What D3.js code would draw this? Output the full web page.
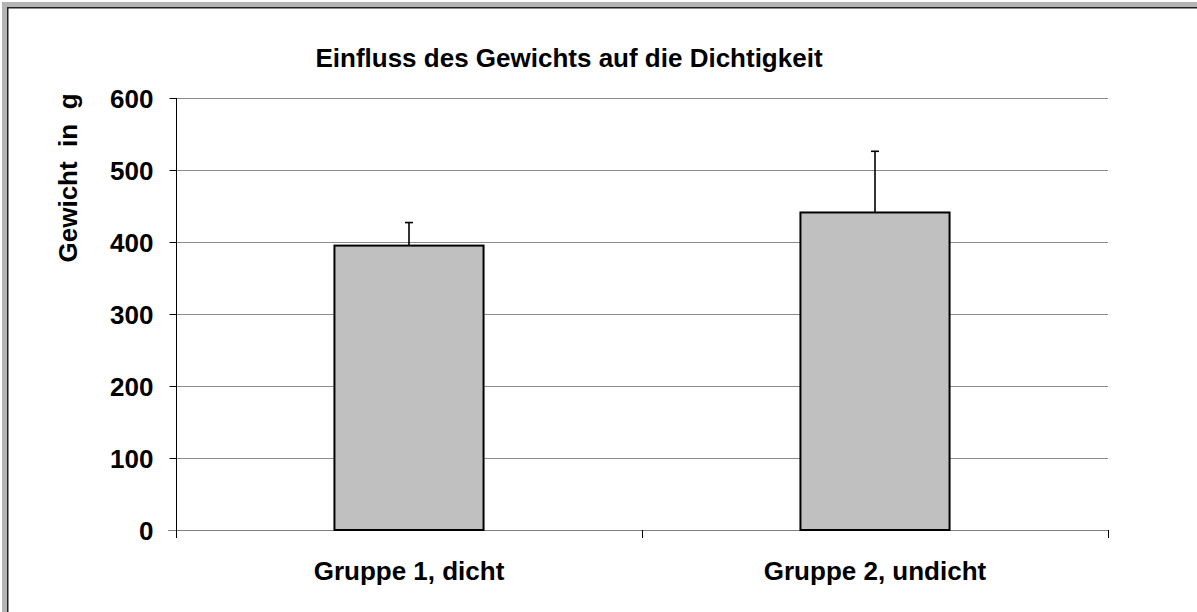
<!DOCTYPE html>
<html>
<head>
<meta charset="utf-8">
<script src="https://d3js.org/d3.v7.min.js"></script>
<style>
  html, body { margin: 0; padding: 0; background: #fff; }
  svg { display: block; }
  text { font-family: "Liberation Sans", Arial, sans-serif; font-weight: bold; fill: #000; }
</style>
</head>
<body>
<svg id="chart" width="1197" height="612"></svg>
<script>
// Data
const categories = ["Gruppe 1, dicht", "Gruppe 2, undicht"];
const means = [395, 441];
const errors = [32, 85];
const yTicks = [0, 100, 200, 300, 400, 500, 600];
const title = "Einfluss des Gewichts auf die Dichtigkeit";
const yTitle = "Gewicht  in  g";

const W = 1197, H = 612;
const plot = { left: 176, right: 1108, top: 98, bottom: 530 };

const svg = d3.select("#chart");

// Frame (top and left edges)
svg.append("rect").attr("x", 2).attr("y", 2).attr("width", W).attr("height", 5).attr("fill", "#b4b4b4");
svg.append("rect").attr("x", 2).attr("y", 2).attr("width", 5).attr("height", H).attr("fill", "#b4b4b4");
svg.append("rect").attr("x", 7).attr("y", 7).attr("width", W).attr("height", 1.5).attr("fill", "#222");
svg.append("rect").attr("x", 7).attr("y", 7).attr("width", 1.5).attr("height", H).attr("fill", "#222");

const x = d3.scaleBand().domain(categories).range([plot.left, plot.right]).paddingInner(0).paddingOuter(0);
const y = d3.scaleLinear().domain([0, 600]).range([plot.bottom, plot.top]);

// Gridlines
svg.append("g")
  .selectAll("line")
  .data(yTicks.filter(d => d > 0))
  .join("line")
  .attr("x1", plot.left).attr("x2", plot.right)
  .attr("y1", d => Math.round(y(d)) + 0.5).attr("y2", d => Math.round(y(d)) + 0.5)
  .attr("stroke", "#8c8c8c").attr("stroke-width", 1);

// Y axis
const yAxis = svg.append("g")
  .attr("transform", `translate(${plot.left + 0.5},0)`)
  .call(d3.axisLeft(y).tickValues(yTicks).tickSize(7).tickPadding(16).tickFormat(d3.format("d")));
yAxis.select(".domain").attr("stroke", "#000").attr("d", `M0,${plot.top}V${plot.bottom}`);
yAxis.selectAll(".tick line").attr("stroke", "#000");
yAxis.selectAll(".tick text").style("font-size", "26px").attr("dy", "0.36em");

// X axis
const xAxis = svg.append("g")
  .attr("transform", `translate(0,${plot.bottom + 0.5})`)
  .call(d3.axisBottom(x).tickSize(0).tickPadding(31));
xAxis.select(".domain").attr("stroke", "#808080").attr("d", `M${plot.left - 8},0H${plot.right}`);
xAxis.selectAll(".tick text").style("font-size", "26px");
// Category separators
svg.append("g")
  .selectAll("line")
  .data([plot.left, plot.left + x.step(), plot.right])
  .join("line")
  .attr("x1", d => Math.round(d) + 0.5).attr("x2", d => Math.round(d) + 0.5)
  .attr("y1", plot.bottom).attr("y2", plot.bottom + 8)
  .attr("stroke", "#000");

// Bars
const barW = x.bandwidth() * 0.32;
svg.append("g")
  .selectAll("rect")
  .data(categories)
  .join("rect")
  .attr("x", (d) => x(d) + x.bandwidth() / 2 - barW / 2)
  .attr("y", (d, i) => y(means[i]))
  .attr("width", barW)
  .attr("height", (d, i) => y(0) - y(means[i]))
  .attr("fill", "#c0c0c0")
  .attr("stroke", "#000")
  .attr("stroke-width", 2);

// Error bars (upper only)
const eb = svg.append("g").attr("stroke", "#000").attr("stroke-width", 1.6);
categories.forEach((c, i) => {
  const cx = x(c) + x.bandwidth() / 2;
  eb.append("line").attr("x1", cx).attr("x2", cx).attr("y1", y(means[i])).attr("y2", y(means[i] + errors[i]));
  eb.append("line").attr("x1", cx - 4).attr("x2", cx + 4).attr("y1", y(means[i] + errors[i])).attr("y2", y(means[i] + errors[i]));
});

// Titles
svg.append("text")
  .attr("x", 569).attr("y", 67)
  .attr("text-anchor", "middle")
  .style("font-size", "26px")
  .text(title);

svg.append("text")
  .attr("transform", `translate(77,${178}) rotate(-90)`)
  .attr("text-anchor", "middle")
  .style("font-size", "26px")
  .attr("xml:space", "preserve")
  .text(yTitle);
</script>
</body>
</html>
